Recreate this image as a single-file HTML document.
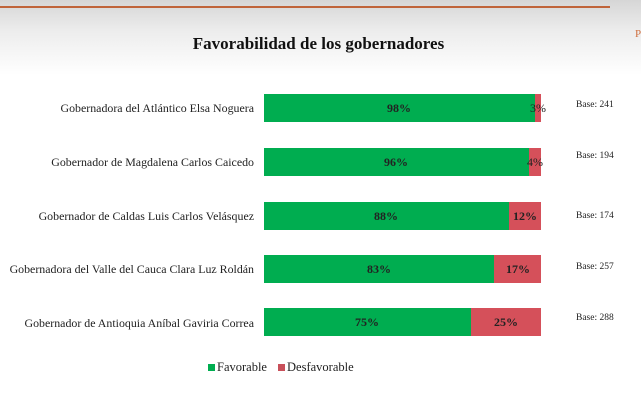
<!DOCTYPE html>
<html><head><meta charset="utf-8"><style>
body{margin:0;width:641px;height:412px;overflow:hidden;background:linear-gradient(#d6d6d6 0px,#ececec 30px,#fff 75px,#fff 100%);font-family:"Liberation Serif",serif;position:relative}
.a{position:absolute}
.lbl{position:absolute;right:387px;font-size:11.9px;color:#222;white-space:nowrap}
.bar{position:absolute;left:264px;width:277px;height:28px;background:#d5505a}
.g{position:absolute;left:0;top:0;height:28px;background:#00ad50}
.p{position:absolute;top:7px;font-size:12px;font-weight:bold;color:#222;transform:translateX(-50%)}
.b{position:absolute;left:576px;font-size:9.5px;color:#222}
</style></head><body>
<div class="a" style="left:0;top:6px;width:610px;height:2px;background:#c0643a"></div>
<div class="a" style="left:635px;top:28px;font-size:11px;color:#d07040">P</div>
<div class="a" style="left:-2px;width:641px;top:34px;text-align:center;font-size:17px;font-weight:bold;color:#111">Favorabilidad de los gobernadores</div>

<div class="lbl" style="top:101px">Gobernadora del Atlántico Elsa Noguera</div>
<div class="bar" style="top:94px"><div class="g" style="width:271px"></div><div class="p" style="left:135px">98%</div><div class="p" style="left:274px;font-weight:normal">3%</div></div>
<div class="b" style="top:100px">Base: 241</div>

<div class="lbl" style="top:155px">Gobernador de Magdalena Carlos Caicedo</div>
<div class="bar" style="top:148px"><div class="g" style="width:265px"></div><div class="p" style="left:132px">96%</div><div class="p" style="left:271px;font-weight:normal">4%</div></div>
<div class="b" style="top:151px">Base: 194</div>

<div class="lbl" style="top:209px">Gobernador de Caldas Luis Carlos Velásquez</div>
<div class="bar" style="top:202px"><div class="g" style="width:245px"></div><div class="p" style="left:122px">88%</div><div class="p" style="left:261px">12%</div></div>
<div class="b" style="top:211px">Base: 174</div>

<div class="lbl" style="top:262px">Gobernadora del Valle del Cauca Clara Luz Roldán</div>
<div class="bar" style="top:255px"><div class="g" style="width:230px"></div><div class="p" style="left:115px">83%</div><div class="p" style="left:254px">17%</div></div>
<div class="b" style="top:262px">Base: 257</div>

<div class="lbl" style="top:316px">Gobernador de Antioquia Aníbal Gaviria Correa</div>
<div class="bar" style="top:308px"><div class="g" style="width:207px"></div><div class="p" style="left:103px">75%</div><div class="p" style="left:242px">25%</div></div>
<div class="b" style="top:313px">Base: 288</div>

<div class="a" style="left:208px;top:364px;width:7px;height:7px;background:#00ad50"></div>
<div class="a" style="left:217px;top:360px;font-size:12.5px;color:#222">Favorable</div>
<div class="a" style="left:278px;top:364px;width:7px;height:7px;background:#c8505a"></div>
<div class="a" style="left:287px;top:360px;font-size:12.5px;color:#222">Desfavorable</div>
</body></html>
